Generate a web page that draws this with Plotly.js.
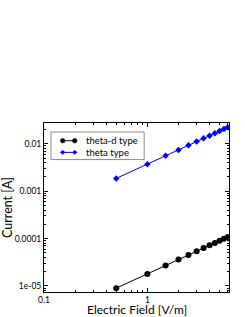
<!DOCTYPE html>
<html><head><meta charset="utf-8">
<script src="https://cdn.plot.ly/plotly-3.0.1.min.js"></script>
<style>html,body{margin:0;padding:0;background:#fff;}#chart{width:245px;height:317px;}</style>
</head><body><div id="chart"></div>
<script>
const fieldValues = [0.5, 1, 1.5, 2, 2.5, 3, 3.5, 4, 4.5, 5, 5.5, 6];
const thetaDCurrent = [9.0e-6, 1.8e-5, 2.7e-5, 3.6e-5, 4.5e-5, 5.4e-5, 6.3e-5, 7.2e-5, 8.1e-5, 9.0e-5, 9.9e-5, 1.08e-4];
const thetaCurrent = [0.00186, 0.0037, 0.0056, 0.0074, 0.0093, 0.0111, 0.013, 0.0148, 0.0167, 0.0185, 0.0204, 0.0222];
const seriesNames = ["theta-d type", "theta type"];
const seriesColors = ["#000000", "#0000ff"];
const xTitle = "Electric Field [V/m]";
const yTitle = "Current [A]";
const xTickVals = [0.1, 1];
const xTickText = ["0.1", "1"];
const yTickVals = [1e-5, 1e-4, 1e-3, 1e-2];
const yTickText = ["1e-05", "0.0001", "0.001", "0.01"];

function minorLog(lo, hi) {
  const out = [];
  for (let e = lo; e <= hi; e++) {
    for (let m = 2; m <= 9; m++) out.push(m * Math.pow(10, e));
  }
  return out;
}

const font = "Lato, Liberation Sans, sans-serif";
const traces = [
  {x: fieldValues, y: thetaDCurrent, name: seriesNames[0], mode: "lines+markers", type: "scatter",
   line: {color: seriesColors[0], width: 1}, marker: {color: seriesColors[0], symbol: "circle", size: 6}},
  {x: fieldValues, y: thetaCurrent, name: seriesNames[1], mode: "lines+markers", type: "scatter",
   line: {color: seriesColors[1], width: 1}, marker: {color: seriesColors[1], symbol: "diamond", size: 5}}
];

// Compact legend drawn in paper space (plot area: 44..228.7 px wide, 123..291.7 px tall)
const plotL = 44, plotW = 184.7, plotT = 123, plotH = 168.7;
const px = v => (v - plotL) / plotW;
const py = v => 1 - (v - plotT) / plotH;
const rowY = [140.7, 152.3];
const shapes = [
  {type: "rect", xref: "paper", yref: "paper", x0: px(51), x1: px(144), y0: py(132), y1: py(159.5),
   line: {color: "#8c8c8c", width: 1}, fillcolor: "#ffffff", layer: "above"}
];
const annotations = [
  {xref: "paper", yref: "paper", x: 0.5, y: py(309.3), xanchor: "center", yanchor: "middle",
   text: xTitle, showarrow: false, font: {family: font, size: 12, color: "#000"}}
];
seriesNames.forEach((name, i) => {
  const y = py(rowY[i]);
  shapes.push({type: "line", xref: "paper", yref: "paper", x0: px(60.5), x1: px(77), y0: y, y1: y,
    line: {color: seriesColors[i], width: 1}, layer: "above"});
  [62.7, 74.7].forEach(cx => {
    if (i === 0) {
      shapes.push({type: "circle", xref: "paper", yref: "paper", xsizemode: "pixel", ysizemode: "pixel",
        xanchor: px(cx), yanchor: y, x0: -2.3, x1: 2.3, y0: -2.3, y1: 2.3,
        line: {color: seriesColors[i], width: 0.5}, fillcolor: seriesColors[i], layer: "above"});
    } else {
      shapes.push({type: "path", xref: "paper", yref: "paper", xsizemode: "pixel", ysizemode: "pixel",
        xanchor: px(cx), yanchor: y, path: "M -2.2 0 L 0 2.2 L 2.2 0 L 0 -2.2 Z",
        line: {color: seriesColors[i], width: 0.5}, fillcolor: seriesColors[i], layer: "above"});
    }
  });
  annotations.push({xref: "paper", yref: "paper", x: px(84), y: y, xanchor: "left", yanchor: "middle",
    text: name, showarrow: false, font: {family: font, size: 9.5, color: "#000"}});
});

const axCommon = {
  type: "log", showline: true, linecolor: "#000", linewidth: 1, mirror: "ticks",
  ticks: "inside", ticklen: 4, tickwidth: 1, tickcolor: "#000", showgrid: false, zeroline: false,
  tickmode: "array", tickfont: {family: font, size: 8.5, color: "#000"}
};
const layout = {
  width: 245, height: 317,
  margin: {l: 44, r: 16.3, t: 123, b: 25.3},
  paper_bgcolor: "#fff", plot_bgcolor: "#fff",
  showlegend: false,
  shapes: shapes,
  annotations: annotations,
  xaxis: Object.assign({}, axCommon, {
    range: [-1, 0.79], tickvals: xTickVals, ticktext: xTickText,
    minor: {tickmode: "array", tickvals: minorLog(-1, 0), ticks: "inside", ticklen: 2, tickcolor: "#000", showgrid: false}
  }),
  yaxis: Object.assign({}, axCommon, {
    range: [-5.127, -1.562], tickvals: yTickVals, ticktext: yTickText,
    minor: {tickmode: "array", tickvals: minorLog(-6, -2), ticks: "inside", ticklen: 2, tickcolor: "#000", showgrid: false},
    title: {text: yTitle, font: {family: font, size: 12.5, color: "#000"}, standoff: 6}
  })
};
Plotly.newPlot("chart", traces, layout, {displayModeBar: false, staticPlot: true});
</script></body></html>
